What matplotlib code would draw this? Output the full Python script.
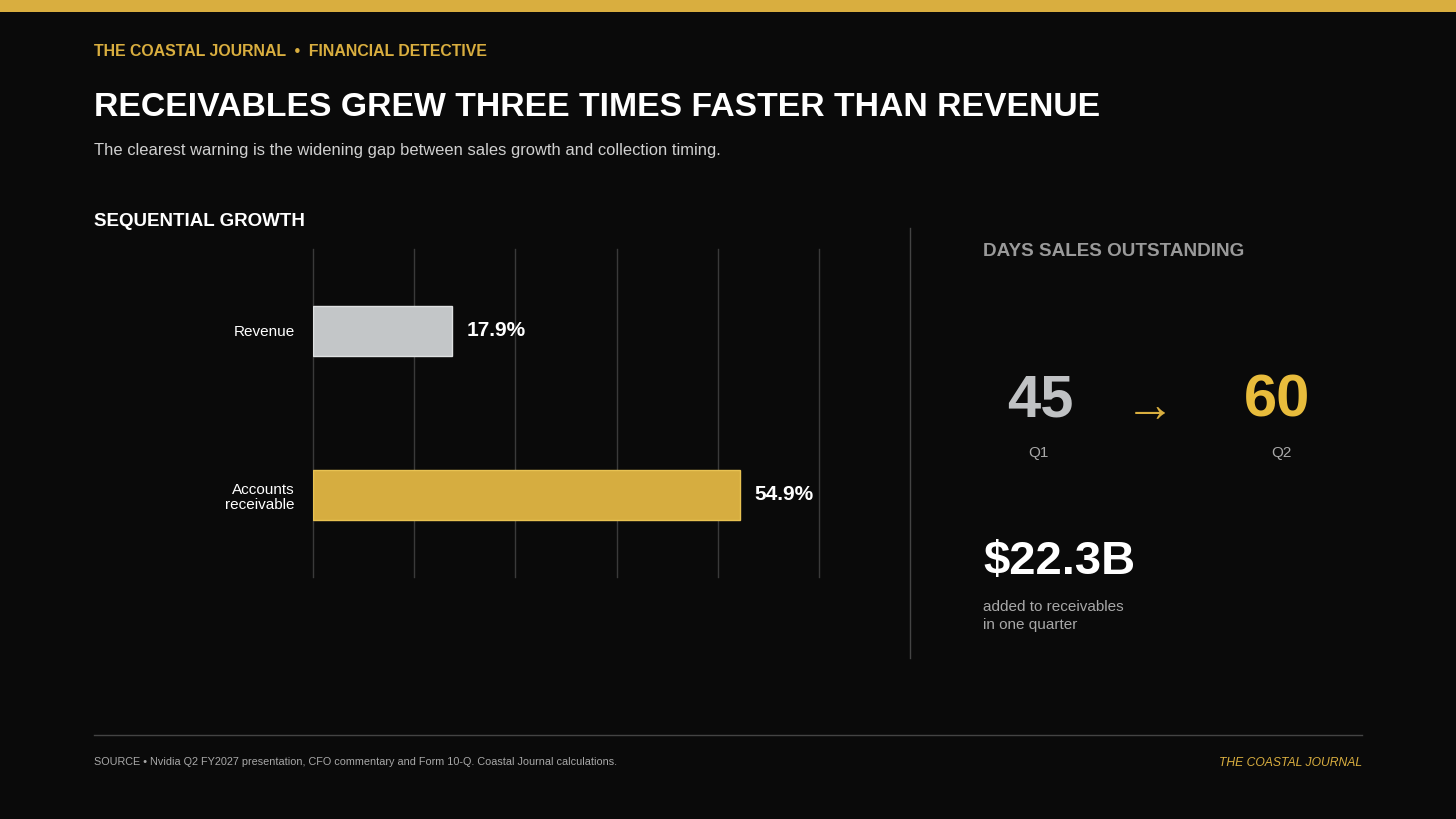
import numpy as np
import matplotlib
matplotlib.use("Agg")
import matplotlib.pyplot as plt
from matplotlib.patches import Rectangle
from matplotlib.lines import Line2D

plt.rcParams['font.family'] = 'Liberation Sans'

# data
categories = ['Revenue', 'Accounts\nreceivable']
growth = [17.9, 54.9]
value_labels = ['17.9%', '54.9%']
dso_quarters = ['Q1', 'Q2']
dso_values = [45, 60]
added_receivables = '$22.3B'

BG = '#0a0a0a'
GOLD = '#d9ae3f'
GREY_BAR = '#c3c6c8'

fig = plt.figure(figsize=(14.56, 8.19), dpi=100, facecolor=BG)

W, H = 1456, 819


def fx(px):
    return px / W


def fy(py):
    return 1 - py / H


# top gold band
fig.patches.append(Rectangle((0, fy(12)), 1, 12 / H, transform=fig.transFigure,
                             facecolor=GOLD, edgecolor='none'))

fig.text(fx(94), fy(52), 'THE COASTAL JOURNAL  \u2022  FINANCIAL DETECTIVE', color=GOLD,
         fontsize=11.4, fontweight='bold', va='center', ha='left')
fig.text(fx(94), fy(108), 'RECEIVABLES GREW THREE TIMES FASTER THAN REVENUE', color='white',
         fontsize=24.3, fontweight='bold', va='center', ha='left')
fig.text(fx(94), fy(151), 'The clearest warning is the widening gap between sales growth and collection timing.',
         color='#d0d0d0', fontsize=11.9, va='center', ha='left')
fig.text(fx(94), fy(222), 'SEQUENTIAL GROWTH', color='white', fontsize=13.5, fontweight='bold',
         va='center', ha='left')

# bar chart
ax = fig.add_axes([fx(313), fy(577), fx(819) - fx(313), (577 - 249) / H])
ax.set_facecolor(BG)
y = np.arange(len(categories))
colors = [GREY_BAR, '#d6ad40']
edges = ['#dfe1e2', '#e8c252']
ax.barh(y, growth, height=0.3, color=colors, edgecolor=edges, linewidth=1, zorder=3)
ax.set_xlim(0, 65)
ax.set_ylim(1.5, -0.5)
ax.set_xticks(np.linspace(0, 65, 6))
ax.xaxis.grid(True, color='#3a3a3a', linewidth=1, zorder=0)
for gl in ax.get_xgridlines():
    gl.set_clip_on(False)
ax.tick_params(axis='both', length=0, labelbottom=False)
ax.set_yticks(y)
ax.set_yticklabels(categories, color='white', fontsize=11, linespacing=1.15)
ax.tick_params(axis='y', pad=13)
for s in ax.spines.values():
    s.set_visible(False)
for yi, v, lab in zip(y, growth, value_labels):
    ax.annotate(lab, (v, yi), xytext=(14, 0), textcoords='offset pixels', color='white',
                fontsize=15, fontweight='bold', va='center', ha='left')

# divider
fig.add_artist(Line2D([fx(910), fx(910)], [fy(228), fy(658)], color='#444444', linewidth=1))

# DSO panel
fig.text(fx(983), fy(252), 'DAYS SALES OUTSTANDING', color='#9a9a9a', fontsize=13.6,
         fontweight='bold', va='center', ha='left')
fig.text(fx(1040), fy(401), str(dso_values[0]), color='#c0c2c4', fontsize=43,
         fontweight='bold', va='center', ha='center')
fig.text(fx(1277), fy(401), str(dso_values[1]), color='#e8bc3c', fontsize=43,
         fontweight='bold', va='center', ha='center')
fig.text(fx(1150), fy(408), '\u2192', color=GOLD, fontsize=36, va='center', ha='center')
fig.text(fx(1038), fy(453), dso_quarters[0], color='#a8a8a8', fontsize=11, va='center', ha='center')
fig.text(fx(1281), fy(453), dso_quarters[1], color='#a8a8a8', fontsize=11, va='center', ha='center')

fig.text(fx(983), fy(562), added_receivables, color='white', fontsize=34, fontweight='bold',
         va='center', ha='left')
fig.text(fx(983), fy(607), 'added to receivables', color='#a8a8a8', fontsize=11, va='center', ha='left')
fig.text(fx(983), fy(625), 'in one quarter', color='#a8a8a8', fontsize=11, va='center', ha='left')

# footer
fig.add_artist(Line2D([fx(94), fx(1362)], [fy(735), fy(735)], color='#444444', linewidth=1))
fig.text(fx(94), fy(762), 'SOURCE \u2022 Nvidia Q2 FY2027 presentation, CFO commentary and Form 10-Q. Coastal Journal calculations.',
         color='#a8a8a8', fontsize=7.85, va='center', ha='left')
fig.text(fx(1362), fy(763), 'THE COASTAL JOURNAL', color=GOLD, fontsize=8.7, style='italic',
         va='center', ha='right')

fig.savefig('out.png', dpi=100, facecolor=BG)
